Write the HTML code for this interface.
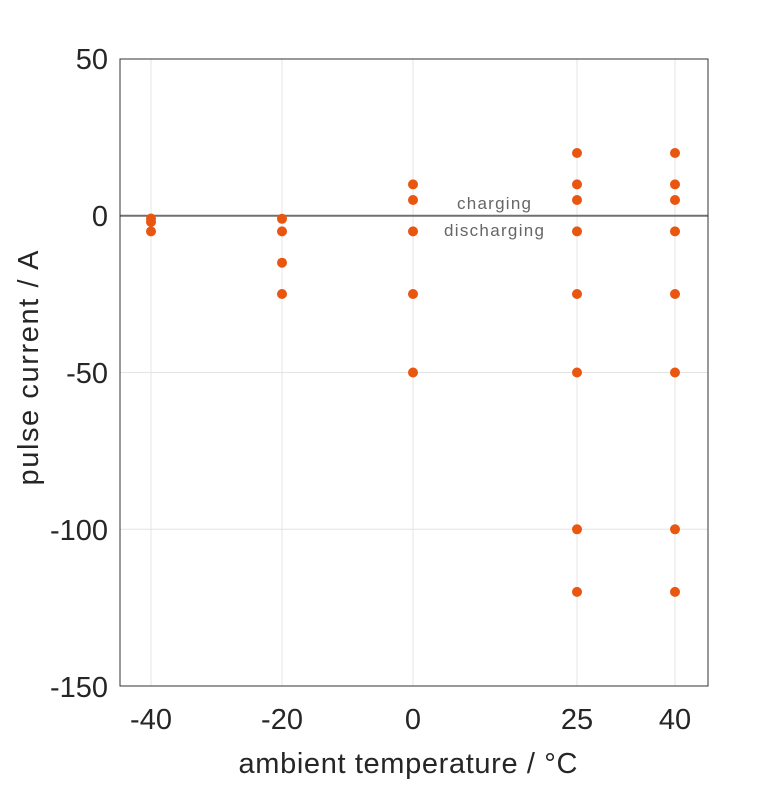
<!DOCTYPE html>
<html><head><style>body{margin:0;background:#fff}</style></head><body>
<svg width="781" height="781" xmlns="http://www.w3.org/2000/svg" font-family="Liberation Sans, sans-serif">
<rect x="0" y="0" width="781" height="781" fill="#fff"/>
<g stroke="#e4e4e4" stroke-width="1">
<line x1="151" y1="59" x2="151" y2="686"/><line x1="282" y1="59" x2="282" y2="686"/>
<line x1="413" y1="59" x2="413" y2="686"/><line x1="577" y1="59" x2="577" y2="686"/>
<line x1="675" y1="59" x2="675" y2="686"/>
<line x1="120" y1="372.5" x2="708" y2="372.5"/><line x1="120" y1="529.3" x2="708" y2="529.3"/>
</g>
<line x1="120" y1="215.7" x2="708" y2="215.7" stroke="#707070" stroke-width="2"/>
<rect x="120" y="59" width="588" height="627" fill="none" stroke="#333" stroke-width="1"/>
<g fill="#666" font-size="17" text-anchor="middle"><text x="494" y="209" textLength="74">charging</text><text x="494" y="236" textLength="100">discharging</text></g>
<g fill="#e8560f">
<circle cx="151" cy="218.5" r="5"/><circle cx="151" cy="222" r="5"/><circle cx="151" cy="231.4" r="5"/>
<circle cx="282" cy="218.8" r="5"/><circle cx="282" cy="231.4" r="5"/><circle cx="282" cy="262.7" r="5"/><circle cx="282" cy="294" r="5"/>
<circle cx="413" cy="184.4" r="5"/><circle cx="413" cy="200" r="5"/><circle cx="413" cy="231.4" r="5"/><circle cx="413" cy="294" r="5"/><circle cx="413" cy="372.5" r="5"/>
<circle cx="577" cy="153" r="5"/><circle cx="577" cy="184.4" r="5"/><circle cx="577" cy="200" r="5"/><circle cx="577" cy="231.4" r="5"/><circle cx="577" cy="294" r="5"/><circle cx="577" cy="372.5" r="5"/><circle cx="577" cy="529.3" r="5"/><circle cx="577" cy="591.9" r="5"/>
<circle cx="675" cy="153" r="5"/><circle cx="675" cy="184.4" r="5"/><circle cx="675" cy="200" r="5"/><circle cx="675" cy="231.4" r="5"/><circle cx="675" cy="294" r="5"/><circle cx="675" cy="372.5" r="5"/><circle cx="675" cy="529.3" r="5"/><circle cx="675" cy="591.9" r="5"/>
</g>
<g fill="#262626" font-size="29" text-anchor="end">
<text x="108" y="69">50</text><text x="108" y="226">0</text><text x="108" y="383">-50</text><text x="108" y="540">-100</text><text x="108" y="697">-150</text>
</g>
<g fill="#262626" font-size="29" text-anchor="middle">
<text x="151" y="729">-40</text><text x="282" y="729">-20</text><text x="413" y="729">0</text><text x="577" y="729">25</text><text x="675" y="729">40</text>
<text x="408" y="773" textLength="339">ambient temperature / °C</text>
<text transform="translate(38,368) rotate(-90)" textLength="235">pulse current / A</text>
</g>
</svg>
</body></html>
